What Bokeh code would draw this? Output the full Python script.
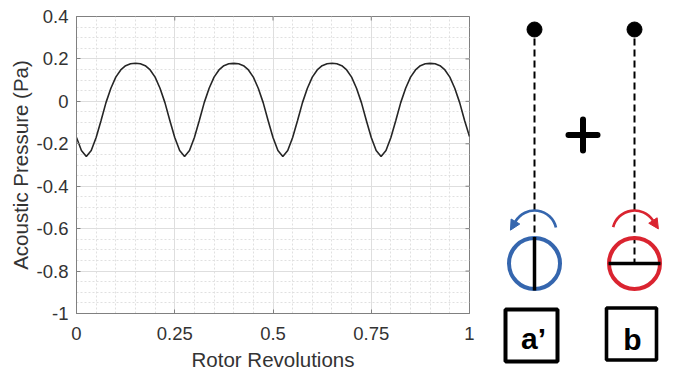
import numpy as np
from bokeh.plotting import figure
from bokeh.layouts import row
from bokeh.models import FixedTicker, Range1d, Arrow, NormalHead
from bokeh.core.properties import value
from bokeh.embed import file_html
from bokeh.resources import INLINE

# ---- data: acoustic pressure over one rotor revolution ----
revolutions = np.linspace(0.0, 1.0, 81)
pressure = [
    -0.170, -0.232, -0.260, -0.232, -0.170, -0.090, -0.006, 0.062, 0.114, 0.148,
    0.168, 0.177, 0.180, 0.177, 0.168, 0.148, 0.114, 0.062, -0.006, -0.090,
    -0.170, -0.232, -0.260, -0.232, -0.170, -0.090, -0.006, 0.062, 0.114, 0.148,
    0.168, 0.177, 0.179, 0.177, 0.168, 0.148, 0.114, 0.062, -0.006, -0.090,
    -0.170, -0.232, -0.260, -0.232, -0.170, -0.090, -0.006, 0.062, 0.114, 0.148,
    0.168, 0.177, 0.180, 0.177, 0.168, 0.148, 0.114, 0.062, -0.006, -0.090,
    -0.170, -0.232, -0.260, -0.232, -0.170, -0.090, -0.006, 0.062, 0.114, 0.148,
    0.168, 0.177, 0.179, 0.177, 0.168, 0.148, 0.114, 0.062, -0.006, -0.090,
    -0.166,
]

x_ticks = [0, 0.25, 0.5, 0.75, 1]
x_tick_labels = ["0", "0.25", "0.5", "0.75", "1"]
y_ticks = [0.4, 0.2, 0, -0.2, -0.4, -0.6, -0.8, -1]
y_tick_labels = ["0.4", "0.2", "0", "-0.2", "-0.4", "-0.6", "-0.8", "-1"]

FONT = "Liberation Sans"
AXIS_COLOR = "#808080"
TEXT_COLOR = "#333333"

x_ticker = FixedTicker(ticks=x_ticks, minor_ticks=list(np.round(np.arange(0, 1.0001, 0.05), 4)))
y_ticker = FixedTicker(ticks=y_ticks, minor_ticks=list(np.round(np.arange(-1, 0.4001, 0.05), 4)))

p = figure(width=480, height=374, x_range=Range1d(0, 1), y_range=Range1d(-1, 0.4),
           output_backend="svg", toolbar_location=None,
           min_border_left=76, min_border_right=11, min_border_top=16, min_border_bottom=61)
p.frame_align = False
p.background_fill_color = "white"
p.outline_line_color = AXIS_COLOR
p.outline_line_width = 1

for ax, ticker, labels, ticks in ((p.xaxis[0], x_ticker, x_tick_labels, x_ticks),
                                   (p.yaxis[0], y_ticker, y_tick_labels, y_ticks)):
    ax.ticker = ticker
    ax.major_label_overrides = {t: l for t, l in zip(ticks, labels)}
    ax.axis_line_color = AXIS_COLOR
    ax.major_tick_line_color = AXIS_COLOR
    ax.major_tick_in = 4
    ax.major_tick_out = 0
    ax.minor_tick_in = 0
    ax.minor_tick_out = 0
    ax.major_label_text_font = FONT
    ax.major_label_text_font_size = "18.5px"
    ax.major_label_text_color = TEXT_COLOR
    ax.axis_label_text_font = FONT
    ax.axis_label_text_font_size = "20.5px"
    ax.axis_label_text_font_style = "normal"
    ax.axis_label_text_color = TEXT_COLOR

p.xaxis.axis_label = "Rotor Revolutions"
p.xaxis.major_label_standoff = 13
p.xaxis.axis_label_standoff = 5
p.yaxis.axis_label = "Acoustic Pressure (Pa)"
p.yaxis.major_label_standoff = 8
p.yaxis.axis_label_standoff = 2

for g, ticker in ((p.xgrid[0], x_ticker), (p.ygrid[0], y_ticker)):
    g.ticker = ticker
    g.grid_line_color = "#dedede"
    g.grid_line_width = 1
    g.minor_grid_line_color = "#e0e0e0"
    g.minor_grid_line_dash = "2 2"
    g.minor_grid_line_width = 1

p.line(revolutions, pressure, line_color="#262626", line_width=1.6)

# inward ticks on the top and right sides of the box (half of each dash is clipped by the frame)
p.scatter(x=x_ticks, y=[0.4] * len(x_ticks), marker="dash", size=8, angle=np.pi / 2,
          line_color=AXIS_COLOR, line_width=1)
p.scatter(x=[1] * len(y_ticks), y=y_ticks, marker="dash", size=8,
          line_color=AXIS_COLOR, line_width=1)

# ---- schematic: two rotor blades, pivots and rotation senses ----
BLUE = "#3566ae"
RED = "#da2430"

d = figure(width=193, height=374, x_range=Range1d(480, 673), y_range=Range1d(0, 374),
           output_backend="svg", toolbar_location=None, x_axis_type=None, y_axis_type=None,
           min_border=0)
d.frame_align = False
d.grid.visible = False
d.outline_line_color = None

rotor_x = [534, 634]
pivot_y = 345
hub_y = 111
arc_y = 142
arc_r = 22

d.segment(x0=rotor_x, y0=[336, 336], x1=rotor_x, y1=[138, hub_y],
          line_color="black", line_width=2, line_dash="7 4")
d.circle(x=rotor_x, y=[pivot_y, pivot_y], radius=7.5, fill_color="black", line_color="black")

d.circle(x=[rotor_x[0]], y=[hub_y], radius=25.5, fill_color=None, line_color=BLUE, line_width=4)
d.circle(x=[rotor_x[1]], y=[hub_y], radius=25.5, fill_color=None, line_color=RED, line_width=4)
d.segment(x0=[rotor_x[0]], y0=[hub_y + 26.5], x1=[rotor_x[0]], y1=[hub_y - 27], line_color="black", line_width=3.5)
d.segment(x0=[rotor_x[1] - 26], y0=[hub_y], x1=[rotor_x[1] + 26], y1=[hub_y], line_color="black", line_width=3.5)

# rotation arrows
blue_a0, blue_a1 = np.radians(13), np.radians(150)
red_a0, red_a1 = np.radians(166), np.radians(33)
d.arc(x=[rotor_x[0]], y=[arc_y], radius=arc_r, start_angle=blue_a0, end_angle=blue_a1,
      direction="anticlock", line_color=BLUE, line_width=2.7)
d.arc(x=[rotor_x[1]], y=[arc_y], radius=arc_r, start_angle=red_a0, end_angle=red_a1,
      direction="clock", line_color=RED, line_width=2.7)

head = 10
bx, by = rotor_x[0] + arc_r * np.cos(blue_a1), arc_y + arc_r * np.sin(blue_a1)
d.add_layout(Arrow(end=NormalHead(size=head, fill_color=BLUE, line_color=BLUE),
                   x_start=bx, y_start=by,
                   x_end=bx - head * np.sin(blue_a1), y_end=by + head * np.cos(blue_a1),
                   line_color=BLUE, line_width=1))
rx, ry = rotor_x[1] + arc_r * np.cos(red_a1), arc_y + arc_r * np.sin(red_a1)
d.add_layout(Arrow(end=NormalHead(size=head, fill_color=RED, line_color=RED),
                   x_start=rx, y_start=ry,
                   x_end=rx + head * np.sin(red_a1), y_end=ry - head * np.cos(red_a1),
                   line_color=RED, line_width=1))

# plus sign
plus_x, plus_y = 582.5, 239.5
d.segment(x0=[plus_x - 14.5, plus_x], y0=[plus_y, plus_y - 15.5],
          x1=[plus_x + 14.5, plus_x], y1=[plus_y, plus_y + 15.5],
          line_color="black", line_width=6, line_cap="round")

# labelled boxes
d.rect(x=[531], y=[39], width=52, height=52, fill_color=None, line_color="black", line_width=4)
d.rect(x=[631], y=[40.5], width=50, height=52, fill_color=None, line_color="black", line_width=3.6)
d.text(x=[533, 632], y=[36, 35.5], text=["a\u2019", "b"], text_align="center",
       text_baseline="alphabetic", text_font=value(FONT), text_font_style="bold",
       text_font_size="30px", text_color="black")

layout = row(p, d)
open("out.html", "w").write(file_html(layout, INLINE))
